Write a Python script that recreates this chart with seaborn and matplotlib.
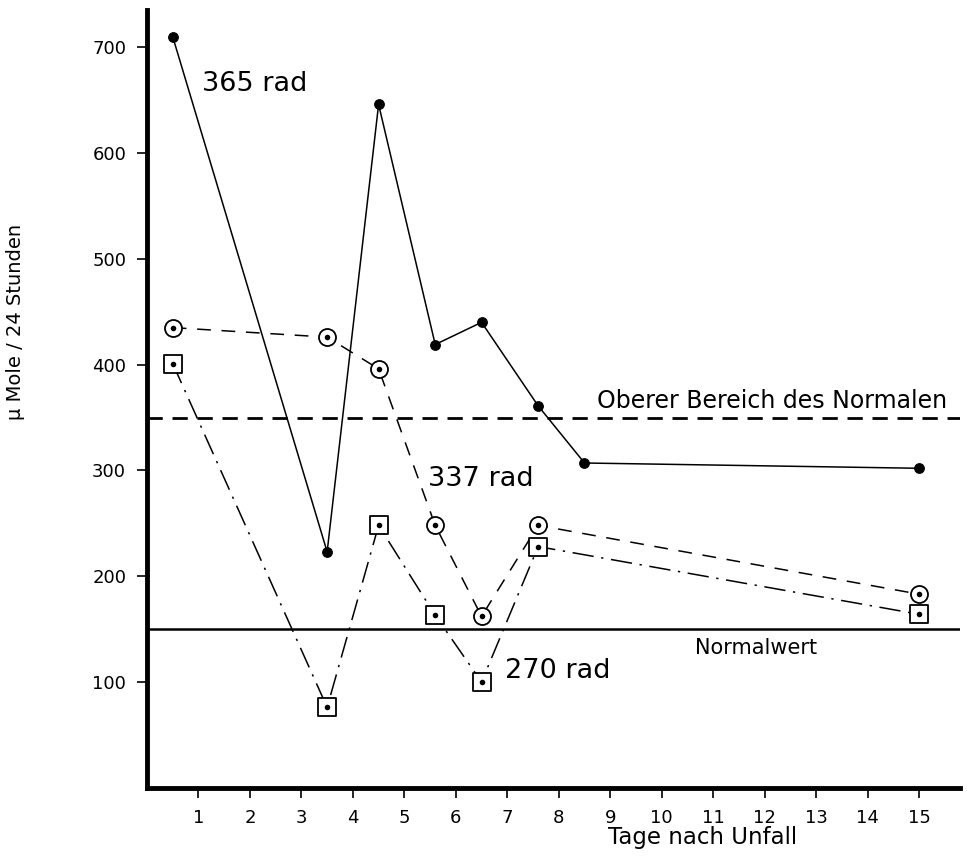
import numpy as np
import pandas as pd
import matplotlib
matplotlib.use("Agg")
import matplotlib.pyplot as plt
import seaborn as sns

# Tage nach Unfall / Werte (µ Mole / 24 Stunden)
tage_365 = [0.5, 3.5, 4.5, 5.6, 6.5, 7.6, 8.5, 15]
werte_365 = [710, 223, 646, 419, 440, 361, 307, 302]

tage_337 = [0.5, 3.5, 4.5, 5.6, 6.5, 7.6, 15]
werte_337 = [435, 426, 396, 248, 162, 248, 183]

tage_270 = [0.5, 3.5, 4.5, 5.6, 6.5, 7.6, 15]
werte_270 = [401, 76, 248, 163, 100, 228, 164]

oberer_bereich = 350
normalwert = 150
x_ticks = list(range(1, 16))
y_ticks = [100, 200, 300, 400, 500, 600, 700]

sns.set_style("white")
plt.rcParams['font.family'] = ['DejaVu Sans']
plt.rcParams['text.color'] = 'black'

fig = plt.figure(figsize=(9.67, 8.59), dpi=100)
ax = fig.add_axes([0.152, 0.083, 0.841, 0.905])

d365 = pd.DataFrame({"tag": tage_365, "wert": werte_365})
d337 = pd.DataFrame({"tag": tage_337, "wert": werte_337})
d270 = pd.DataFrame({"tag": tage_270, "wert": werte_270})

# reference lines
ax.axhline(oberer_bereich, color="black", lw=2.0, dashes=(5.5, 3.5), zorder=1)
ax.axhline(normalwert, color="black", lw=1.8, zorder=1)

# 365 rad - solid, filled dots
sns.lineplot(data=d365, x="tag", y="wert", ax=ax, color="black", lw=1.1,
             marker="o", markersize=7, markerfacecolor="black",
             markeredgecolor="black", zorder=3)

# 337 rad - dashed, circle with dot
sns.lineplot(data=d337, x="tag", y="wert", ax=ax, color="black", lw=1.1,
             zorder=3)
ax.lines[-1].set_dashes((9, 7))
sns.scatterplot(data=d337, x="tag", y="wert", ax=ax, marker="o", s=150,
                facecolor="white", edgecolor="black", linewidth=1.3, zorder=4)

# 270 rad - dash-dot, square with dot
sns.lineplot(data=d270, x="tag", y="wert", ax=ax, color="black", lw=1.1,
             zorder=3)
ax.lines[-1].set_dashes((14, 5, 1.5, 5))
sns.scatterplot(data=d270, x="tag", y="wert", ax=ax, marker="s", s=150,
                facecolor="white", edgecolor="black", linewidth=1.3, zorder=4)

# centre dots
sns.scatterplot(data=pd.concat([d337, d270]), x="tag", y="wert", ax=ax,
                marker="o", s=16, color="black", linewidth=0, zorder=5)

ax.set_xlim(0, 15.8)
ax.set_ylim(0, 735)
ax.set_xticks(x_ticks)
ax.set_xticklabels([str(t) for t in x_ticks])
ax.set_yticks(y_ticks)
ax.set_yticklabels([str(t) for t in y_ticks])

for side in ["top", "right"]:
    ax.spines[side].set_visible(False)
for side in ["left", "bottom"]:
    ax.spines[side].set_linewidth(3.5)
    ax.spines[side].set_color("black")

ax.tick_params(axis="both", direction="out", length=7, width=1.2,
               color="black", labelcolor="black", labelsize=13, pad=8,
               left=True, bottom=True)

ax.set_xlabel("")
ax.set_ylabel("")
fig.text(0.727, 0.012, "Tage nach Unfall", fontsize=16.5, ha="center", va="bottom")
fig.text(0.016, 0.625, "µ Mole / 24 Stunden", fontsize=14, rotation=90,
         ha="center", va="center")

ax.text(1.07, 665, "365 rad", fontsize=19.5, va="center")
ax.text(5.45, 292, "337 rad", fontsize=19.5, va="center")
ax.text(6.95, 110, "270 rad", fontsize=19.5, va="center")
ax.text(8.75, 354, "Oberer Bereich des Normalen", fontsize=17, va="bottom")
ax.text(10.65, 142, "Normalwert", fontsize=15, va="top")

fig.savefig("out.png", dpi=100)
